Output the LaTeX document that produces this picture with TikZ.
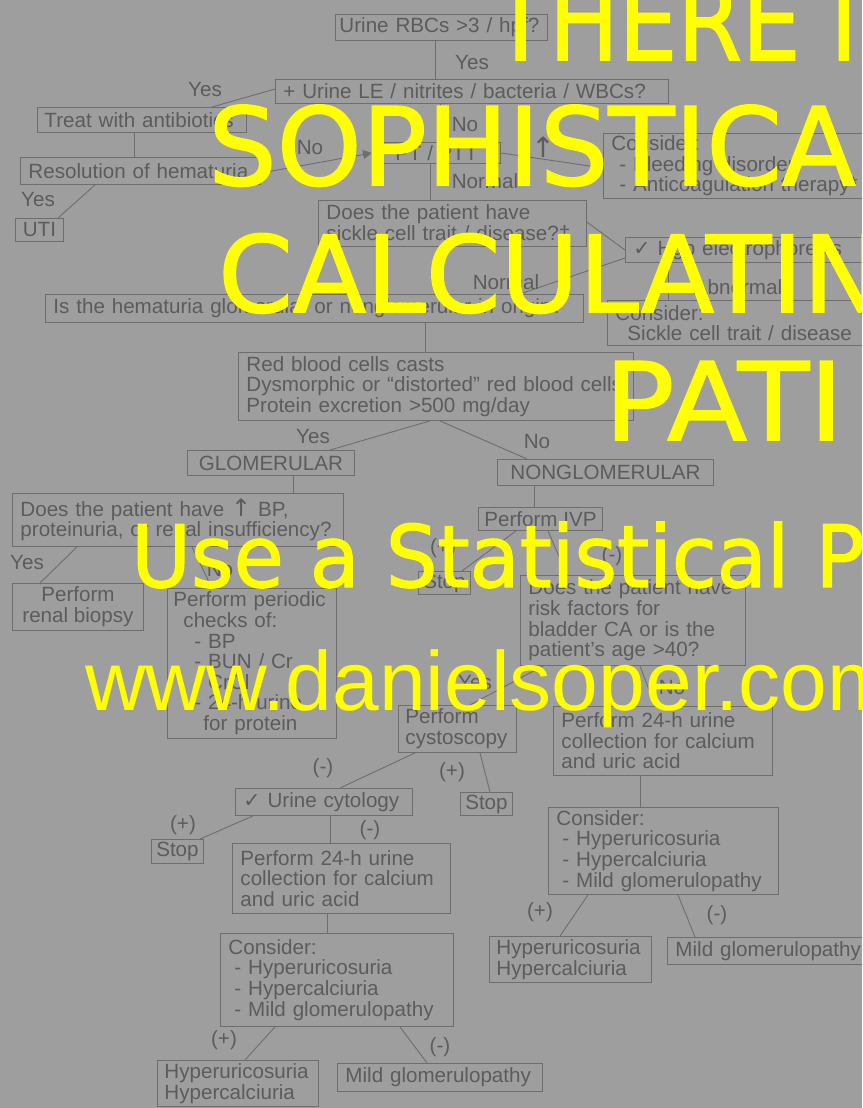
\documentclass[tikz,border=0pt]{standalone}
\usepackage{fontspec}
\setmainfont{Liberation Sans}
\newfontfamily\dvfont{DejaVu Sans}
\newfontfamily\dvbold[FakeBold=1.5]{DejaVu Sans}
\newfontfamily\lsfont{Liberation Sans}
\usetikzlibrary{arrows.meta}
\definecolor{bg}{RGB}{158,158,158}
\definecolor{ink}{RGB}{92,92,92}
\definecolor{edgec}{RGB}{110,110,110}
\definecolor{ylw}{RGB}{255,255,0}
\newcommand\dgfont{\fontsize{20.6}{20.6}\selectfont}
\begin{document}
\begin{tikzpicture}[x=1pt,y=-1pt,
  bx/.style={draw=edgec, line width=0.9pt, anchor=north west, inner xsep=8pt, inner ysep=1pt, align=left, text=ink, font=\dgfont},
  cbx/.style={draw=edgec, line width=0.9pt, anchor=north west, inner xsep=2pt, inner ysep=1pt, align=center, text=ink, font=\dgfont},
  lbl/.style={text=ink, font=\dgfont, inner sep=0pt},
  conn/.style={draw=edgec, line width=0.9pt},
  warn/.style={text=ylw, inner sep=0pt, anchor=base west}]
\fill[bg] (0,0) rectangle (862,1108);
\useasboundingbox (0,0) rectangle (862,1108);
\begin{scope}
\clip (0,0) rectangle (862,1108);
% ---------- boxes ----------
\node[bx, text width=204pt, minimum height=26pt, inner xsep=4pt] (urbc) at (335,14) {Urine RBCs >3 / hpf?};
\node[bx, text width=377pt, minimum height=24pt] (le) at (275,79) {+ Urine LE / nitrites / bacteria / WBCs?};
\node[bx, text width=195pt, minimum height=25pt, inner xsep=7pt] (treat) at (37,107) {Treat with antibiotics};
\node[bx, text width=224pt, minimum height=27pt] (resol) at (20,157) {Resolution of hematuria};
\node[cbx, minimum width=48pt, minimum height=23pt] (uti) at (15,218) {UTI};
\node[cbx, minimum width=128pt, minimum height=21pt] (pt) at (372,142) {PT / PTT};
\node[bx, text width=290pt, minimum height=65pt] (consb) at (603,133) {Consider:\\\hspace*{8pt}- Bleeding disorder*\\\hspace*{8pt}- Anticoagulation therapy*};
\node[bx, text width=252pt, minimum height=46pt] (sickle) at (318,200) {Does the patient have\\sickle cell trait / disease?\textdagger};
\node[bx, text width=290pt, minimum height=25pt] (hgb) at (625,237) {{\dvfont ✓} Hgb electrophoresis};
\node[bx, text width=290pt, minimum height=45pt] (conss) at (607,300) {Consider:\\\hspace*{12pt}Sickle cell trait / disease};
\node[bx, text width=522pt, minimum height=28pt] (isg) at (45,294) {Is the hematuria glomerular or nonglomerular in origin?};
\node[bx, text width=379pt, minimum height=68pt] (rbc) at (238,352) {Red blood cells casts\\Dysmorphic or “distorted” red blood cells\\Protein excretion >500 mg/day};
\node[cbx, minimum width=167pt, minimum height=25pt] (glom) at (187,450) {GLOMERULAR};
\node[cbx, minimum width=216pt, minimum height=26pt] (nong) at (497,459) {NONGLOMERULAR};
\node[bx, text width=315pt, minimum height=53pt] (bp) at (12,493) {Does the patient have {\dvfont\fontsize{24}{20}\selectfont ↑} BP,\\proteinuria, or renal insufficiency?};
\node[cbx, minimum width=131pt, minimum height=47pt] (biopsy) at (12,583) {Perform\\renal biopsy};
\node[bx, text width=157pt, minimum height=150pt, inner xsep=6pt] (periodic) at (167,588) {Perform periodic\\\hspace*{10pt}checks of:\\\hspace*{21pt}- BP\\\hspace*{21pt}- BUN / Cr\\\hspace*{21pt}- CrCl\\\hspace*{21pt}- 24-h urine\\\hspace*{30pt}for protein};
\node[cbx, minimum width=124pt, minimum height=23pt] (ivp) at (478,507) {Perform IVP};
\node[cbx, minimum width=52pt, minimum height=23pt] (stop1) at (418,571) {Stop};
\node[bx, text width=209pt, minimum height=90pt] (bladder) at (520,575) {Does the patient have\\risk factors for\\bladder CA or is the\\patient’s age >40?};
\node[bx, text width=104pt, minimum height=47pt, inner xsep=7pt] (cysto) at (398,705) {Perform\\cystoscopy};
\node[bx, text width=203pt, minimum height=69pt] (r24) at (553,706) {Perform 24-h urine\\collection for calcium\\and uric acid};
\node[bx, text width=161pt, minimum height=27pt] (cyto) at (235,788) {{\dvfont ✓} Urine cytology};
\node[cbx, minimum width=52pt, minimum height=23pt] (stop2) at (460,792) {Stop};
\node[cbx, minimum width=52pt, minimum height=24pt] (stop3) at (151,839) {Stop};
\node[bx, text width=202pt, minimum height=70pt] (l24) at (232,843) {Perform 24-h urine\\collection for calcium\\and uric acid};
\node[bx, text width=217pt, minimum height=93pt] (lcons) at (220,933) {Consider:\\\hspace*{6pt}- Hyperuricosuria\\\hspace*{6pt}- Hypercalciuria\\\hspace*{6pt}- Mild glomerulopathy};
\node[bx, text width=147pt, minimum height=46pt, inner xsep=7pt] (lhyp) at (157,1060) {Hyperuricosuria\\Hypercalciuria};
\node[bx, text width=189pt, minimum height=28pt] (lmild) at (337,1063) {Mild glomerulopathy};
\node[bx, text width=214pt, minimum height=87pt] (rcons) at (548,807) {Consider:\\\hspace*{6pt}- Hyperuricosuria\\\hspace*{6pt}- Hypercalciuria\\\hspace*{6pt}- Mild glomerulopathy};
\node[bx, text width=148pt, minimum height=46pt, inner xsep=7pt] (rhyp) at (489,936) {Hyperuricosuria\\Hypercalciuria};
\node[bx, text width=290pt, minimum height=27pt] (rmild) at (667,937) {Mild glomerulopathy};
% ---------- connectors ----------
\draw[conn] (435,0 |- urbc.south) -- (435,0 |- le.north);
\draw[conn] (le.west |- 0,89) -- (212,0 |- treat.north);
\draw[conn] (134,0 |- treat.south) -- (134,0 |- resol.north);
\draw[conn] (95,0 |- resol.south) -- (58,0 |- uti.north);
\draw[conn, -{Triangle[length=9pt,width=9pt]}] (resol.east |- 0,173) -- (pt.west);
\draw[conn] (440,0 |- le.south) -- (440,0 |- pt.north);
\draw[conn] (pt.east) -- (consb.west |- 0,168);
\draw[conn] (430,0 |- pt.south) -- (430,0 |- sickle.north);
\draw[conn] (sickle.east |- 0,222) -- (hgb.west |- 0,250);
\draw[conn] (hgb.west |- 0,258) -- (520,0 |- isg.north);
\draw[conn] (668,0 |- hgb.south) -- (668,0 |- conss.north);
\draw[conn] (425,0 |- isg.south) -- (425,0 |- rbc.north);
\draw[conn] (430,0 |- rbc.south) -- (330,0 |- glom.north);
\draw[conn] (440,0 |- rbc.south) -- (527,0 |- nong.north);
\draw[conn] (293,0 |- glom.south) -- (293,0 |- bp.north);
\draw[conn] (534,0 |- nong.south) -- (534,0 |- ivp.north);
\draw[conn] (77,0 |- bp.south) -- (40,0 |- biopsy.north);
\draw[conn] (192,0 |- bp.south) -- (212,0 |- periodic.north);
\draw[conn] (516,0 |- ivp.south) -- (462,0 |- stop1.north);
\draw[conn] (548,0 |- ivp.south) -- (567,0 |- bladder.north);
\draw[conn] (543,0 |- bladder.south) -- (470,0 |- cysto.north);
\draw[conn] (640,0 |- bladder.south) -- (655,0 |- r24.north);
\draw[conn] (415,0 |- cysto.south) -- (340,0 |- cyto.north);
\draw[conn] (480,0 |- cysto.south) -- (490,0 |- stop2.north);
\draw[conn] (253,0 |- cyto.south) -- (200,0 |- stop3.north);
\draw[conn] (330,0 |- cyto.south) -- (330,0 |- l24.north);
\draw[conn] (327,0 |- l24.south) -- (327,0 |- lcons.north);
\draw[conn] (275,0 |- lcons.south) -- (245,0 |- lhyp.north);
\draw[conn] (400,0 |- lcons.south) -- (427,0 |- lmild.north);
\draw[conn] (640,0 |- r24.south) -- (640,0 |- rcons.north);
\draw[conn] (588,0 |- rcons.south) -- (560,0 |- rhyp.north);
\draw[conn] (678,0 |- rcons.south) -- (695,0 |- rmild.north);
% ---------- labels ----------
\node[lbl] (y1) at (472,63) {Yes};
\node[lbl] (y2) at (205,90) {Yes};
\node[lbl] (n1) at (465,125) {No};
\node[lbl] (n2) at (310,148) {No};
\node[lbl] (y3) at (38,200) {Yes};
\node[lbl, font=\dvfont\fontsize{28}{28}\selectfont] (up1) at (543,147) {↑};
\node[lbl] (nm1) at (485,181) {Normal};
\node[lbl] (nm2) at (506,282) {Normal};
\node[lbl] (ab1) at (738,287) {Abnormal};
\node[lbl] (y4) at (313,437) {Yes};
\node[lbl] (n3) at (537,442) {No};
\node[lbl] (y5) at (27,563) {Yes};
\node[lbl] (n4) at (220,570) {No};
\node[lbl] (p1) at (443,548) {(+)};
\node[lbl] (m1) at (612,556) {(-)};
\node[lbl] (y6) at (475,683) {Yes};
\node[lbl] (n5) at (672,688) {No};
\node[lbl] (m2) at (323,768) {(-)};
\node[lbl] (p2) at (452,772) {(+)};
\node[lbl] (p3) at (183,825) {(+)};
\node[lbl] (m3) at (370,830) {(-)};
\node[lbl] (p4) at (224,1040) {(+)};
\node[lbl] (m4) at (440,1047) {(-)};
\node[lbl] (p5) at (540,912) {(+)};
\node[lbl] (m5) at (717,915) {(-)};
% ---------- overlay text ----------
\node[warn, font=\dvbold\fontsize{108}{108}\selectfont] (w1) at (492,60) {\scalebox{0.86}[1]{THERE I}};
\node[warn, font=\dvbold\fontsize{108}{108}\selectfont] (w2) at (208,185) {\scalebox{1.0}[1]{SOPHISTICA}};
\node[warn, font=\dvbold\fontsize{106}{106}\selectfont] (w3) at (218,312) {\scalebox{1.01}[1]{CALCULATIN}};
\node[warn, font=\dvbold\fontsize{108}{108}\selectfont] (w4) at (604,440) {\scalebox{1.08}[1]{PATI}};
\node[warn, font=\dvbold\fontsize{86}{86}\selectfont] (w5) at (131,587) {\scalebox{0.95}[1]{Use a Statistical P}};
\node[warn, font=\lsfont\fontsize{84}{84}\selectfont] (w6) at (85,710) {www.danielsoper.com};
\end{scope}
\end{tikzpicture}
\end{document}
